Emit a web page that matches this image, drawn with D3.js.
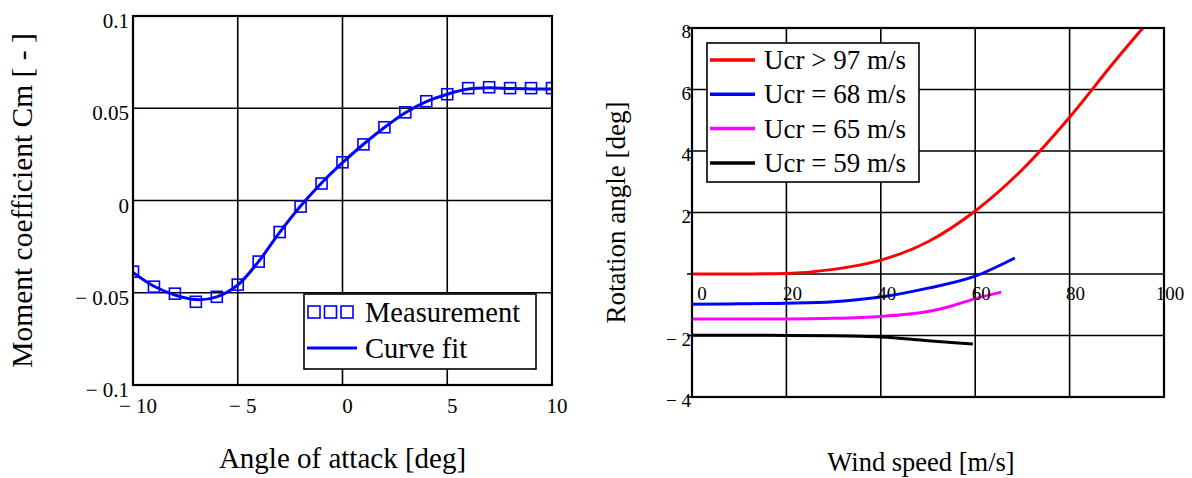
<!DOCTYPE html>
<html><head><meta charset="utf-8">
<script src="https://cdn.jsdelivr.net/npm/d3@7"></script>
<style>body{margin:0;background:#fff}svg{display:block}text{font-family:"Liberation Serif","Times New Roman",serif;fill:#000}</style>
</head><body>
<svg id="c" width="1192" height="478"></svg>
<script>
// ---- Left chart data ----
const aoa = [-10,-9,-8,-7,-6,-5,-4,-3,-2,-1,0,1,2,3,4,5,6,7,8,9,10];
const cmMeasured = [-0.0386,-0.0467,-0.0505,-0.0549,-0.0522,-0.0456,-0.0331,-0.0171,-0.0033,0.0092,0.0207,0.0304,0.0397,0.0478,0.0538,0.0576,0.0609,0.0614,0.0609,0.0609,0.0609];
const cmFit = [-0.039,-0.0465,-0.0512,-0.0537,-0.0522,-0.0458,-0.033,-0.0173,-0.003,0.0095,0.0205,0.0305,0.0396,0.0476,0.0536,0.0576,0.0604,0.0611,0.0607,0.0605,0.0605];
const leftXTicks = [-10,-5,0,5,10];
const leftYTicks = [0.1,0.05,0,-0.05,-0.1];
const leftLegend = ["Measurement","Curve fit"];

// ---- Right chart data ----
const speedRed = [0,10,20,30,40,50,60,70,80,90,95.5];
const rotRed = [0,0,0.02,0.15,0.45,1.05,2.05,3.4,5.1,7.0,8];
const speedBlue = [0,10,20,30,40,50,60,68.4];
const rotBlue = [-0.98,-0.97,-0.95,-0.9,-0.75,-0.46,-0.07,0.52];
const speedMagenta = [0,10,20,30,40,45,50,55,60,65.5];
const rotMagenta = [-1.46,-1.46,-1.46,-1.44,-1.38,-1.32,-1.22,-1.04,-0.8,-0.59];
const speedBlack = [0,10,20,30,40,50,59.5];
const rotBlack = [-1.99,-1.99,-2.0,-2.01,-2.05,-2.17,-2.28];
const rightSeriesNames = ["Ucr > 97 m/s","Ucr = 68 m/s","Ucr = 65 m/s","Ucr = 59 m/s"];
const rightColors = ["#ff0000","#0000ff","#ff00ff","#000000"];
const rightXTicks = [0,20,40,60,80,100];
const rightYTicks = [8,6,4,2,0,-2,-4];
const rightYLabels = [8,6,4,2,-2,-4];

const svg = d3.select("#c");
const fmt = v => v < 0 ? "\u2212 " + Math.abs(v) : String(v);

// ================= LEFT =================
{
  const L = 133, R = 552, T = 16, B = 385;
  const x = d3.scaleLinear().domain([-10,10]).range([L,R]);
  const y = d3.scaleLinear().domain([-0.1,0.1]).range([B,T]);
  const g = svg.append("g");
  g.append("defs").append("clipPath").attr("id","clipL").append("rect")
    .attr("x",L).attr("y",T).attr("width",R-L).attr("height",B-T);
  g.selectAll(".vg").data(leftXTicks.slice(1,-1)).join("line")
    .attr("x1",d=>x(d)).attr("x2",d=>x(d)).attr("y1",T).attr("y2",B)
    .attr("stroke","#000").attr("stroke-width",1.6);
  g.selectAll(".hg").data(leftYTicks.slice(1,-1)).join("line")
    .attr("y1",d=>y(d)).attr("y2",d=>y(d)).attr("x1",L).attr("x2",R)
    .attr("stroke","#000").attr("stroke-width",1.6);
  g.selectAll(".xl").data(leftXTicks).join("text")
    .attr("x",d=>x(d)+5).attr("y",B+28).attr("text-anchor","middle")
    .attr("font-size",21).text(fmt);
  g.selectAll(".yl").data(leftYTicks).join("text")
    .attr("x",L-4).attr("y",d=>y(d)+12).attr("text-anchor","end")
    .attr("font-size",21).text(fmt);
  const pts = aoa.map((a,i)=>[a,cmFit[i]]);
  const cg = g.append("g").attr("clip-path","url(#clipL)");
  cg.append("path").datum(pts)
    .attr("d",d3.line().x(d=>x(d[0])).y(d=>y(d[1])).curve(d3.curveCatmullRom))
    .attr("fill","none").attr("stroke","#0000ff").attr("stroke-width",3);
  cg.selectAll(".m").data(aoa.map((a,i)=>[a,cmMeasured[i]])).join("rect")
    .attr("x",d=>x(d[0])-5.5).attr("y",d=>y(d[1])-5.5).attr("width",11).attr("height",11)
    .attr("fill","none").attr("stroke","#0000ff").attr("stroke-width",1.6);
  g.append("rect").attr("x",L).attr("y",T).attr("width",R-L).attr("height",B-T)
    .attr("fill","none").attr("stroke","#000").attr("stroke-width",2.2);
  const lg = g.append("g");
  lg.append("rect").attr("x",304).attr("y",294).attr("width",232).attr("height",75)
    .attr("fill","#fff").attr("stroke","#000").attr("stroke-width",1.6);
  [314,330.5,347].forEach(cx=>{
    lg.append("rect").attr("x",cx-6).attr("y",306).attr("width",12).attr("height",12)
      .attr("fill","none").attr("stroke","#0000ff").attr("stroke-width",1.6);
  });
  lg.append("line").attr("x1",307).attr("x2",357).attr("y1",348).attr("y2",348)
    .attr("stroke","#0000ff").attr("stroke-width",3);
  lg.selectAll(".lt").data(leftLegend).join("text")
    .attr("x",365).attr("y",(d,i)=>322+i*36).attr("font-size",28.5).text(d=>d);
  g.append("text").attr("x",(L+R)/2).attr("y",468).attr("text-anchor","middle")
    .attr("font-size",29).text("Angle of attack [deg]");
  g.append("text").attr("transform","translate(32,"+((T+B)/2)+") rotate(-90)")
    .attr("text-anchor","middle").attr("font-size",29.5).text("Moment coefficient Cm [ - ]");
}

// ================= RIGHT =================
{
  const L = 692, R = 1164, T = 28, B = 397;
  const x = d3.scaleLinear().domain([0,100]).range([L,R]);
  const y = d3.scaleLinear().domain([-4,8]).range([B,T]);
  const g = svg.append("g");
  g.append("defs").append("clipPath").attr("id","clipR").append("rect")
    .attr("x",L).attr("y",T).attr("width",R-L).attr("height",B-T);
  g.selectAll(".vg").data(rightXTicks.slice(1,-1)).join("line")
    .attr("x1",d=>x(d)).attr("x2",d=>x(d)).attr("y1",T).attr("y2",B)
    .attr("stroke","#000").attr("stroke-width",1.6);
  g.selectAll(".hg").data(rightYTicks.slice(1,-1)).join("line")
    .attr("y1",d=>y(d)).attr("y2",d=>y(d)).attr("x1",L-5).attr("x2",R)
    .attr("stroke","#000").attr("stroke-width",1.6);
  g.selectAll(".tk").data([8,-4]).join("line")
    .attr("y1",d=>y(d)).attr("y2",d=>y(d)).attr("x1",L-5).attr("x2",L)
    .attr("stroke","#000").attr("stroke-width",1.6);
  const series = [[speedRed,rotRed],[speedBlue,rotBlue],[speedMagenta,rotMagenta],[speedBlack,rotBlack]];
  const cg = g.append("g").attr("clip-path","url(#clipR)");
  series.forEach((s,k)=>{
    cg.append("path").datum(s[0].map((v,i)=>[v,s[1][i]]))
      .attr("d",d3.line().x(d=>x(d[0])).y(d=>y(d[1])).curve(d3.curveMonotoneX))
      .attr("fill","none").attr("stroke",rightColors[k]).attr("stroke-width",3);
  });
  g.append("rect").attr("x",L).attr("y",T).attr("width",R-L).attr("height",B-T)
    .attr("fill","none").attr("stroke","#000").attr("stroke-width",2.2);
  g.selectAll(".xl").data(rightXTicks).join("text")
    .attr("x",d=>x(d)+(d===0?10:6)).attr("y",y(0)+26).attr("text-anchor","middle")
    .attr("font-size",19).text(fmt);
  g.selectAll(".yl").data(rightYLabels).join("text")
    .attr("x",L-1).attr("y",d=>y(d)+10).attr("text-anchor","end")
    .attr("font-size",19).text(fmt);
  const lg = g.append("g");
  lg.append("rect").attr("x",707).attr("y",43).attr("width",212).attr("height",139)
    .attr("fill","#fff").attr("stroke","#000").attr("stroke-width",1.6);
  rightSeriesNames.forEach((n,i)=>{
    const yy = 60 + i*34.3;
    lg.append("line").attr("x1",710).attr("x2",755).attr("y1",yy).attr("y2",yy)
      .attr("stroke",rightColors[i]).attr("stroke-width",3.5);
    lg.append("text").attr("x",764).attr("y",yy+9).attr("font-size",27).text(n);
  });
  g.append("text").attr("x",921).attr("y",471).attr("text-anchor","middle")
    .attr("font-size",26.5).text("Wind speed [m/s]");
  g.append("text").attr("transform","translate(625,"+((T+B)/2)+") rotate(-90)")
    .attr("text-anchor","middle").attr("font-size",27).text("Rotation angle [deg]");
}
</script>
</body></html>
